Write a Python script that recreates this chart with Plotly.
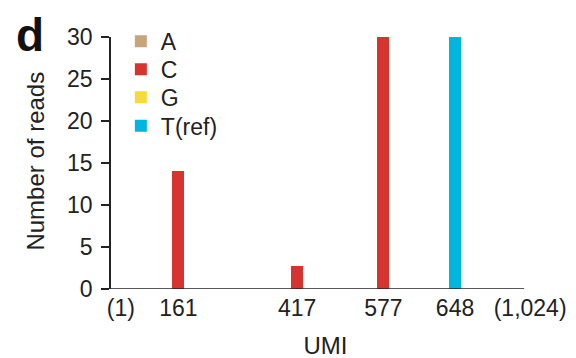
import plotly.graph_objects as go

# ---- data ----
bases = ["A", "C", "G", "T(ref)"]
base_colors = ["#C7A57C", "#D7332F", "#F6D93B", "#00B5E0"]
umi_labels = ["161", "417", "577", "648"]
reads = [14, 2.7, 30, 30]
read_base = ["C", "C", "C", "T(ref)"]
tick_labels = ["(1)", "161", "417", "577", "648", "(1,024)"]

# ---- layout (schematic slot positions along the UMI axis) ----
tick_slots = [0.23, 1.57, 4.34, 6.35, 8.02, 9.77]
axis_end = 9.63
legend_rows = [0.9825, 0.8716, 0.7607, 0.6479]   # paper y of each legend entry
slot_of = dict(zip(tick_labels, tick_slots))
color_of = dict(zip(bases, base_colors))

FONT = "Liberation Sans, Arial, Helvetica, sans-serif"
INK = "#222222"
FS = 23      # tick labels / legend
FT = 24      # axis titles

fig = go.Figure()
fig.add_trace(go.Bar(
    x=[slot_of[u] for u in umi_labels],
    y=reads,
    width=0.28,
    marker=dict(color=[color_of[b] for b in read_base], line=dict(width=0)),
    showlegend=False,
))
legend_layout = {}
for i, (b, c) in enumerate(zip(bases, base_colors)):
    lname = "legend" if i == 0 else f"legend{i + 1}"
    fig.add_trace(go.Scatter(
        x=[None], y=[None], mode="markers", name=b, legend=lname,
        marker=dict(symbol="square", size=16, color=c),
    ))
    legend_layout[lname] = dict(
        x=0.023, y=legend_rows[i], xanchor="left", yanchor="middle",
        font=dict(size=FS, color=INK, family=FONT), bgcolor="rgba(0,0,0,0)",
        itemsizing="constant",
    )

fig.add_shape(type="line", xref="x", yref="y", x0=0, x1=axis_end, y0=0, y1=0,
              line=dict(color=INK, width=1.5), layer="above")

fig.update_layout(
    width=576, height=358,
    margin=dict(l=103, r=44, t=24, b=77),
    paper_bgcolor="white", plot_bgcolor="white",
    font=dict(family=FONT, size=FS, color=INK),
    bargap=0,
    xaxis=dict(
        range=[0, 10], showline=False, showgrid=False, zeroline=False,
        automargin=False,
        tickmode="array", tickvals=tick_slots, ticktext=tick_labels,
        ticks="", tickfont=dict(size=FS, color=INK), ticklabelstandoff=3,
        title=dict(text="UMI", font=dict(size=FT, color=INK), standoff=17),
    ),
    yaxis=dict(
        range=[0, 30], tick0=0, dtick=5, showgrid=False, zeroline=False,
        automargin=False,
        showline=True, linecolor=INK, linewidth=1.5,
        ticks="outside", ticklen=8, tickwidth=1.5, tickcolor=INK,
        tickfont=dict(size=FS, color=INK), ticklabelstandoff=4,
    ),
    annotations=[
        dict(text="<b>d</b>", xref="paper", yref="paper", x=-0.189, y=1.12,
             xanchor="center", yanchor="top", showarrow=False,
             font=dict(size=46, family=FONT, color="#111111")),
        dict(text="Number of reads", xref="paper", yref="paper", x=-0.177, y=0.506,
             xanchor="center", yanchor="middle", textangle=-90, showarrow=False,
             font=dict(size=FT, family=FONT, color=INK)),
    ],
    **legend_layout,
)

fig.write_html("out.html")
